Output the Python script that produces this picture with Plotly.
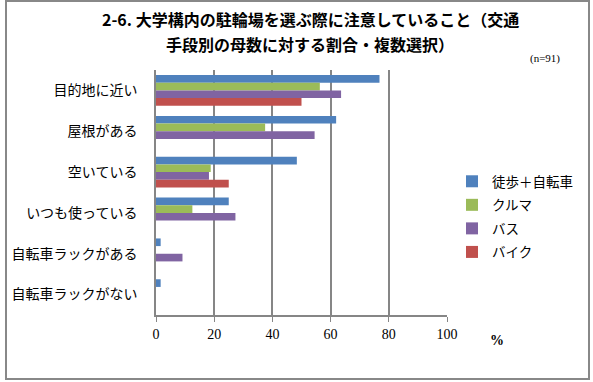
import plotly.graph_objects as go

categories = ["目的地に近い", "屋根がある", "空いている", "いつも使っている", "自転車ラックがある", "自転車ラックがない"]
series_names = ["徒歩＋自転車", "クルマ", "バス", "バイク"]
walk_bike = [76.8, 61.9, 48.4, 25.0, 1.6, 1.6]
car = [56.3, 37.5, 18.8, 12.5, 0, 0]
bus = [63.6, 54.5, 18.2, 27.3, 9.1, 0]
motorbike = [50.0, 0, 25.0, 0, 0, 0]
colors = ["#4F81BD", "#9BBB59", "#8064A2", "#C0504D"]
x_ticks = [0, 20, 40, 60, 80, 100]
title_lines = ["2-6. 大学構内の駐輪場を選ぶ際に注意していること（交通", "手段別の母数に対する割合・複数選択）"]

fig = go.Figure()
for name, vals, col in zip(series_names, [walk_bike, car, bus, motorbike], colors):
    fig.add_trace(go.Bar(y=categories, x=vals, name=name, orientation="h", legendgroup=name,
                         marker=dict(color=col, line=dict(width=0))))

PW = 291.0
PH = 245.0
annotations = []
for line, ypix in zip(title_lines, [19, 44]):
    annotations.append(dict(text="<b>" + line + "</b>", xref="paper", yref="paper",
                            x=(310 - 156) / PW, y=(315 - ypix) / PH, xanchor="center", yanchor="middle",
                            showarrow=False, font=dict(size=16, family="Noto Sans CJK JP")))
annotations += [
    dict(text="(n=91)", xref="paper", yref="paper", x=(545 - 156) / PW, y=(315 - 58) / PH,
         xanchor="center", yanchor="middle", showarrow=False,
         font=dict(size=11, family="Liberation Serif")),
    dict(text="<b>%</b>", xref="paper", yref="paper", x=(497 - 156) / PW, y=(315 - 340) / PH,
         xanchor="center", yanchor="middle", showarrow=False,
         font=dict(size=14, family="Liberation Serif")),
]

fig.update_layout(
    width=593, height=382,
    margin=dict(l=156, r=146, t=70, b=67, autoexpand=False),
    paper_bgcolor="white", plot_bgcolor="white",
    barmode="group", bargap=0.25, bargroupgap=0,
    font=dict(family="Noto Sans CJK JP", size=12, color="black"),
    showlegend=True,
    legend=dict(x=(452 - 156) / PW, y=(315 - 166) / PH, xanchor="left", yanchor="top",
                font=dict(size=13.5, family="Noto Sans CJK JP"),
                traceorder="grouped", itemwidth=30, tracegroupgap=3, bgcolor="rgba(0,0,0,0)"),
    xaxis=dict(range=[0, 100], tickvals=x_ticks, showgrid=True, gridcolor="#868686", gridwidth=1.5,
               showline=True, linecolor="#868686", linewidth=1.5, ticks="outside", ticklen=5,
               tickcolor="#868686", tickfont=dict(family="Liberation Serif", size=14), zeroline=False,
               automargin=False, fixedrange=True),
    yaxis=dict(autorange="reversed", showline=True, linecolor="#868686", linewidth=1.5,
               ticks="", ticklabelstandoff=14, tickfont=dict(size=14), automargin=False, fixedrange=True),
    shapes=[dict(type="rect", xref="paper", yref="paper", x0=(6 - 156) / PW, x1=(589 - 156) / PW,
                 y0=(315 - 379) / PH, y1=(315 - 1) / PH, line=dict(color="#888888", width=2))],
    annotations=annotations,
)

fig.write_html("out.html", config={"displayModeBar": False},
               post_script="document.body.style.margin='0';document.body.style.overflow='hidden';")
